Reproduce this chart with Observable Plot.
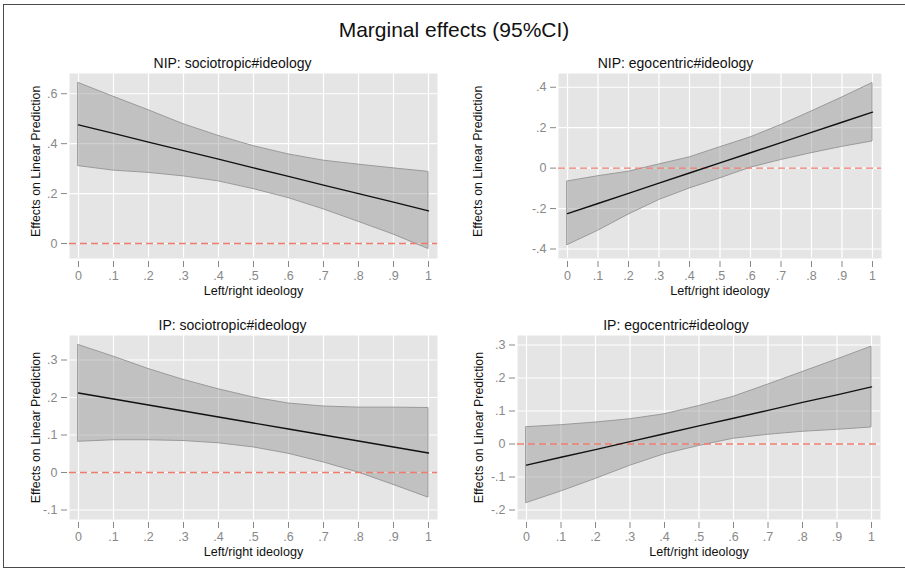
<!DOCTYPE html>
<html>
<head>
<meta charset="utf-8">
<script src="https://cdn.jsdelivr.net/npm/d3@7"></script>
<script src="https://cdn.jsdelivr.net/npm/@observablehq/plot@0.6"></script>
<style>
  body { margin: 0; background: #fff; }
  #chart { position: relative; width: 905px; height: 573px; overflow: hidden; background: #fff;
           font-family: "Liberation Sans", Arial, Helvetica, sans-serif; }
  #border { position: absolute; left: 3px; top: 4px; width: 930px; height: 564px; box-sizing: border-box;
            border-left: 1.5px solid #4a4a4a; border-top: 1.5px solid #4a4a4a; border-bottom: 1.5px solid #4a4a4a; }
  #title { position: absolute; left: 0; top: 19px; width: 908px; text-align: center;
           font-size: 21px; line-height: 21px; color: #111; }
  .panel { position: absolute; }
  .panel svg { font-size: 12.5px; }
</style>
</head>
<body>
<div id="chart">
  <div id="border"></div>
  <div id="title">Marginal effects (95%CI)</div>
</div>
<script>
// ---- data ----
const ideology = [0, 0.1, 0.2, 0.3, 0.4, 0.5, 0.6, 0.7, 0.8, 0.9, 1];
const xTicks = [0, 0.1, 0.2, 0.3, 0.4, 0.5, 0.6, 0.7, 0.8, 0.9, 1];
const xTickLabels = ["0", ".1", ".2", ".3", ".4", ".5", ".6", ".7", ".8", ".9", "1"];

const panelTitles = ["NIP: sociotropic#ideology", "NIP: egocentric#ideology",
                     "IP: sociotropic#ideology", "IP: egocentric#ideology"];
const xTitle = "Left/right ideology";
const yTitle = "Effects on Linear Prediction";

// NIP: sociotropic#ideology
const nipSocEffect = [0.475, 0.441, 0.406, 0.372, 0.338, 0.303, 0.269, 0.234, 0.200, 0.166, 0.131];
const nipSocUpper  = [0.643, 0.588, 0.534, 0.478, 0.431, 0.390, 0.357, 0.332, 0.316, 0.301, 0.287];
const nipSocLower  = [0.310, 0.292, 0.283, 0.269, 0.249, 0.218, 0.182, 0.137, 0.087, 0.036, -0.022];
const nipSocYTicks = [0, 0.2, 0.4, 0.6];
const nipSocYLabels = ["0", ".2", ".4", ".6"];

// NIP: egocentric#ideology
const nipEgoEffect = [-0.225, -0.175, -0.125, -0.074, -0.024, 0.026, 0.076, 0.126, 0.177, 0.227, 0.277];
const nipEgoUpper  = [-0.066, -0.040, -0.018, 0.018, 0.053, 0.103, 0.152, 0.213, 0.280, 0.349, 0.421];
const nipEgoLower  = [-0.381, -0.310, -0.230, -0.158, -0.101, -0.051, 0.002, 0.040, 0.074, 0.105, 0.132];
const nipEgoYTicks = [-0.4, -0.2, 0, 0.2, 0.4];
const nipEgoYLabels = ["-.4", "-.2", "0", ".2", ".4"];

// IP: sociotropic#ideology
const ipSocEffect = [0.212, 0.196, 0.180, 0.164, 0.148, 0.132, 0.116, 0.100, 0.084, 0.068, 0.052];
const ipSocUpper  = [0.340, 0.309, 0.276, 0.247, 0.222, 0.200, 0.184, 0.176, 0.173, 0.173, 0.172];
const ipSocLower  = [0.082, 0.086, 0.086, 0.084, 0.078, 0.067, 0.050, 0.027, 0.000, -0.033, -0.067];
const ipSocYTicks = [-0.1, 0, 0.1, 0.2, 0.3];
const ipSocYLabels = ["-.1", "0", ".1", ".2", ".3"];

// IP: egocentric#ideology
const ipEgoEffect = [-0.064, -0.040, -0.017, 0.007, 0.031, 0.055, 0.078, 0.102, 0.126, 0.149, 0.173];
const ipEgoUpper  = [0.051, 0.057, 0.065, 0.075, 0.090, 0.115, 0.143, 0.180, 0.218, 0.256, 0.295];
const ipEgoLower  = [-0.179, -0.144, -0.106, -0.066, -0.031, -0.006, 0.016, 0.028, 0.037, 0.043, 0.050];
const ipEgoYTicks = [-0.2, -0.1, 0, 0.1, 0.2, 0.3];
const ipEgoYLabels = ["-.2", "-.1", "0", ".1", ".2", ".3"];

// ---- drawing ----
const FONT = '"Liberation Sans", Arial, Helvetica, sans-serif';
const TICK_GRAY = "#888888";

function panel(cfg) {
  const rows = ideology.map((x, i) => ({x, lo: cfg.lower[i], hi: cfg.upper[i], eff: cfg.effect[i]}));
  const yExtent = d3.extent([...cfg.upper, ...cfg.lower, ...cfg.yTicks]);
  const xLab = new Map(xTicks.map((t, i) => [t, xTickLabels[i]]));
  const yLab = new Map(cfg.yTicks.map((t, i) => [t, cfg.yLabels[i]]));
  const plot = Plot.plot({
    width: cfg.width, height: cfg.height,
    marginLeft: cfg.mL, marginRight: cfg.mR, marginTop: cfg.mT, marginBottom: cfg.mB,
    style: {background: "transparent", fontFamily: FONT, overflow: "visible"},
    x: {domain: [0, 1], inset: 9},
    y: {domain: yExtent, inset: 9.5},
    marks: [
      Plot.frame({fill: "#e5e5e5", stroke: null}),
      Plot.gridX(xTicks, {stroke: "#ffffff", strokeOpacity: 1, strokeWidth: 1.2}),
      Plot.gridY(cfg.yTicks, {stroke: "#ffffff", strokeOpacity: 1, strokeWidth: 1.2}),
      Plot.areaY(rows, {x: "x", y1: "lo", y2: "hi", fill: "#8f8f8f", fillOpacity: 0.42,
                        stroke: "#9a9a9a", strokeWidth: 1}),
      Plot.ruleY([0], {stroke: "#ee7b6e", strokeWidth: 1.3, strokeDasharray: "7,4"}),
      Plot.line(rows, {x: "x", y: "eff", stroke: "#111", strokeWidth: 1.4}),
      Plot.axisX(xTicks, {tickFormat: d => xLab.get(d), tickSize: 6, tickPadding: 4, dy: 3,
                          color: TICK_GRAY, fontSize: 12.5, label: null}),
      Plot.axisY(cfg.yTicks, {tickFormat: d => yLab.get(d), tickSize: 6, tickPadding: 4, dx: -2,
                              color: TICK_GRAY, fontSize: 12.5, label: null}),
      Plot.text([cfg.title], {frameAnchor: "top", lineAnchor: "bottom", textAnchor: "middle",
                              dx: cfg.titleDx, dy: -5.3, fontSize: 14, fill: "#111"}),
      Plot.text([xTitle], {frameAnchor: "bottom", lineAnchor: "bottom", textAnchor: "middle",
                           dy: cfg.xTitleDy, fontSize: 12.6, fill: "#111"}),
      Plot.text([yTitle], {frameAnchor: "left", lineAnchor: "middle", textAnchor: "middle",
                           rotate: -90, dx: cfg.yTitleDx, dy: cfg.yTitleDy, fontSize: 12.4, fill: "#111"})
    ]
  });
  const holder = document.createElement("div");
  holder.className = "panel";
  holder.style.left = cfg.left + "px";
  holder.style.top = cfg.top + "px";
  holder.appendChild(plot);
  document.getElementById("chart").appendChild(holder);
}

panel({title: panelTitles[0], effect: nipSocEffect, upper: nipSocUpper, lower: nipSocLower,
       yTicks: nipSocYTicks, yLabels: nipSocYLabels,
       left: 0, top: 40, width: 450, height: 258, mL: 69, mR: 13, mT: 33, mB: 40,
       titleDx: -21, xTitleDy: 36, yTitleDx: -33, yTitleDy: -4.7});
panel({title: panelTitles[1], effect: nipEgoEffect, upper: nipEgoUpper, lower: nipEgoLower,
       yTicks: nipEgoYTicks, yLabels: nipEgoYLabels,
       left: 450, top: 40, width: 455, height: 258, mL: 108, mR: 24, mT: 33, mB: 40,
       titleDx: -44.5, xTitleDy: 36, yTitleDx: -80, yTitleDy: -4.7});
panel({title: panelTitles[2], effect: ipSocEffect, upper: ipSocUpper, lower: ipSocLower,
       yTicks: ipSocYTicks, yLabels: ipSocYLabels,
       left: 0, top: 300, width: 450, height: 268, mL: 69, mR: 13, mT: 35, mB: 49,
       titleDx: -21, xTitleDy: 36.5, yTitleDx: -33, yTitleDy: 0});
panel({title: panelTitles[3], effect: ipEgoEffect, upper: ipEgoUpper, lower: ipEgoLower,
       yTicks: ipEgoYTicks, yLabels: ipEgoYLabels,
       left: 450, top: 300, width: 455, height: 268, mL: 67, mR: 25, mT: 35, mB: 49,
       titleDx: -23, xTitleDy: 36.5, yTitleDx: -38.7, yTitleDy: 0});
</script>
</body>
</html>
